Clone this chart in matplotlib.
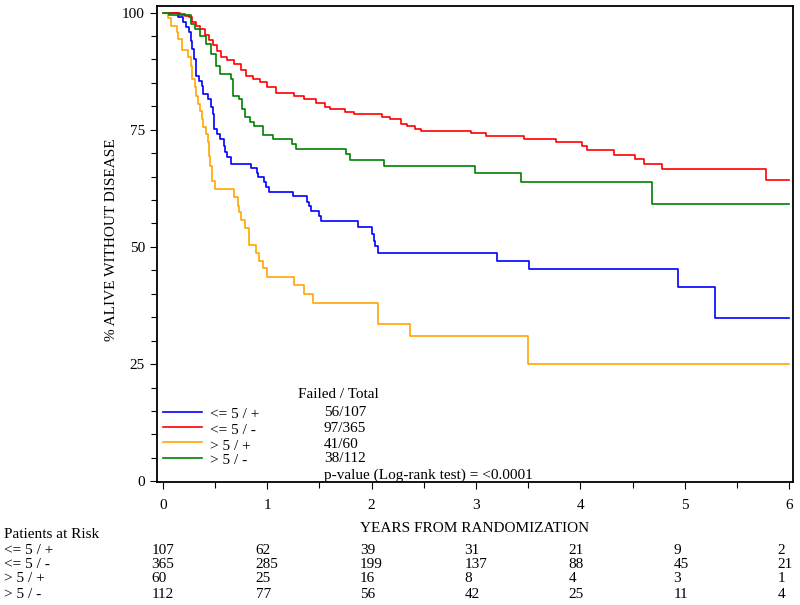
import matplotlib.pyplot as plt
from matplotlib.lines import Line2D
import matplotlib.transforms as mtrans
from matplotlib.ticker import MultipleLocator

plt.rcParams['font.family'] = ['Liberation Serif', 'DejaVu Serif']
plt.rcParams['font.size'] = 11

groups = ['<= 5 / +', '<= 5 / -', '> 5 / +', '> 5 / -']
colors = ['#0000FF', '#FF0000', '#FFA500', '#008000']
failed_total = ['56/107', '97/365', '41/60', '38/112']

# Kaplan-Meier steps (time in years, % alive after the step)
t_blue = [0, 0.15, 0.19, 0.22, 0.25, 0.27, 0.28, 0.30, 0.32, 0.35, 0.38, 0.39, 0.43, 0.46,
          0.48, 0.49, 0.52, 0.55, 0.59, 0.60, 0.62, 0.65, 0.85, 0.90, 0.91, 0.97, 0.99,
          1.02, 1.25, 1.38, 1.40, 1.42, 1.50, 1.52, 1.87, 2.00, 2.02, 2.03, 2.06, 3.20,
          3.51, 4.94, 5.29, 6.0]
s_blue = [100, 99.1, 98.0, 97.0, 95.9, 94.0, 92.3, 90.1, 86.5, 85.4, 84.4, 82.7, 81.6, 79.9,
          78.4, 75.2, 74.1, 73.0, 71.5, 70.2, 69.2, 67.7, 66.8, 65.7, 64.9, 63.8, 62.7,
          61.7, 60.8, 59.5, 58.7, 57.6, 56.5, 55.5, 54.2, 52.7, 51.2, 50.1, 48.6, 46.9,
          45.2, 41.5, 34.9, 34.9]

t_red = [0, 0.17, 0.21, 0.25, 0.28, 0.32, 0.36, 0.40, 0.44, 0.48, 0.52, 0.56, 0.62, 0.68,
         0.75, 0.80, 0.86, 0.93, 1.00, 1.08, 1.26, 1.35, 1.47, 1.55, 1.60, 1.75, 1.83,
         2.10, 2.18, 2.28, 2.34, 2.42, 2.47, 2.95, 3.10, 3.46, 3.77, 4.02, 4.06, 4.32,
         4.52, 4.61, 4.78, 5.78, 6.0]
s_red = [100, 99.6, 99.2, 99.0, 98.0, 97.2, 96.4, 95.3, 94.2, 93.0, 91.8, 90.6, 89.8, 89.0,
         87.8, 86.5, 85.8, 85.2, 84.1, 82.8, 82.2, 81.6, 80.8, 79.8, 79.4, 78.8, 78.4,
         77.8, 77.3, 76.3, 75.8, 75.2, 74.7, 74.3, 73.7, 73.0, 72.4, 71.5, 70.7, 69.6,
         68.7, 67.7, 66.6, 64.2, 64.2]

t_orange = [0, 0.05, 0.08, 0.14, 0.15, 0.18, 0.24, 0.27, 0.28, 0.31, 0.32, 0.34, 0.36, 0.38,
            0.39, 0.41, 0.43, 0.44, 0.45, 0.47, 0.50, 0.68, 0.72, 0.73, 0.75, 0.79, 0.83,
            0.89, 0.92, 0.96, 1.00, 1.26, 1.35, 1.44, 2.06, 2.37, 3.50, 6.0]
s_orange = [100, 98.9, 97.2, 95.9, 94.4, 92.1, 90.6, 88.7, 85.9, 84.2, 82.2, 80.5, 79.0, 77.3,
            75.6, 74.1, 72.4, 69.4, 67.2, 64.0, 62.3, 60.6, 58.7, 57.4, 55.7, 54.0, 50.5,
            48.8, 46.9, 45.4, 43.5, 41.8, 40.0, 38.1, 33.6, 31.0, 25.1, 25.1]

t_green = [0, 0.06, 0.27, 0.31, 0.36, 0.41, 0.46, 0.51, 0.55, 0.65, 0.67, 0.73, 0.76, 0.79,
           0.84, 0.87, 0.96, 1.06, 1.24, 1.28, 1.76, 1.79, 2.12, 2.99, 3.43, 4.69, 6.0]
s_green = [100, 99.4, 97.6, 96.6, 95.1, 93.4, 91.2, 88.7, 86.9, 85.9, 82.2, 81.6, 79.4, 77.7,
           76.6, 75.8, 73.9, 73.0, 71.9, 70.9, 69.8, 68.5, 67.2, 65.7, 63.8, 59.1, 59.1]

risk_times = [0, 1, 2, 3, 4, 5, 6]
at_risk = [[107, 62, 39, 31, 21, 9, 2],
           [365, 285, 199, 137, 88, 45, 21],
           [60, 25, 16, 8, 4, 3, 1],
           [112, 77, 56, 42, 25, 11, 4]]

fig = plt.figure(figsize=(8, 6.05), dpi=100)
ax = fig.add_axes([0.196, 0.203, 0.795, 0.787])

curves = [(t_blue, s_blue), (t_red, s_red), (t_orange, s_orange), (t_green, s_green)]
for (t, s), c in zip(curves, colors):
    ax.step(t, s, where='post', color=c, lw=1.2)

ax.set_xlim(-0.057, 6.035)
ax.set_ylim(-0.2, 101.4)
ax.xaxis.set_major_locator(MultipleLocator(1))
ax.xaxis.set_minor_locator(MultipleLocator(0.5))
ax.yaxis.set_major_locator(MultipleLocator(25))
ax.yaxis.set_minor_locator(MultipleLocator(5))
ax.tick_params(which='major', direction='out', length=5, width=0.8, labelsize=11)
ax.tick_params(which='minor', direction='out', length=4, width=0.8)
ax.tick_params(axis='x', pad=7)
for sp in ax.spines.values():
    sp.set_linewidth(1.3)

ax.set_ylabel('% ALIVE WITHOUT DISEASE', fontsize=11)
ax.yaxis.set_label_coords(-0.061, 0.51)
fig.text(475 / 800, 1 - 528 / 605, 'YEARS FROM RANDOMIZATION', ha='center', va='center', fontsize=11)

# legend block
fig.text(298 / 800, 1 - 394 / 605, 'Failed / Total', ha='left', va='center', fontsize=11)
line_y = [412, 427, 442, 458]
lab_y = [415, 431, 446, 461]
val_y = [412, 429, 444, 459]
for i, g in enumerate(groups):
    yy = 1 - line_y[i] / 605
    fig.add_artist(Line2D([163 / 800, 202 / 800], [yy, yy], color=colors[i], lw=1.2,
                          transform=fig.transFigure))
    fig.text(210 / 800, 1 - lab_y[i] / 605, g, ha='left', va='center', fontsize=11)
    fig.text(324 / 800, 1 - val_y[i] / 605, failed_total[i], ha='left', va='center', fontsize=11)
fig.text(324 / 800, 1 - 475 / 605, 'p-value (Log-rank test) = <0.0001', ha='left', va='center',
         fontsize=11)

# patients at risk table
trans = mtrans.blended_transform_factory(ax.transData, fig.transFigure)
fig.text(4 / 800, 1 - 535 / 605, 'Patients at Risk', ha='left', va='center', fontsize=11)
row_y = [550, 564, 579, 594]
for i, g in enumerate(groups):
    yy = 1 - row_y[i] / 605
    fig.text(4 / 800, yy, g, ha='left', va='center', fontsize=11)
    for tt, n in zip(risk_times, at_risk[i]):
        ax.text(tt - 0.11, yy, str(n), transform=trans, ha='left', va='center', fontsize=11,
                clip_on=False)

plt.savefig('out.png', dpi=100)
